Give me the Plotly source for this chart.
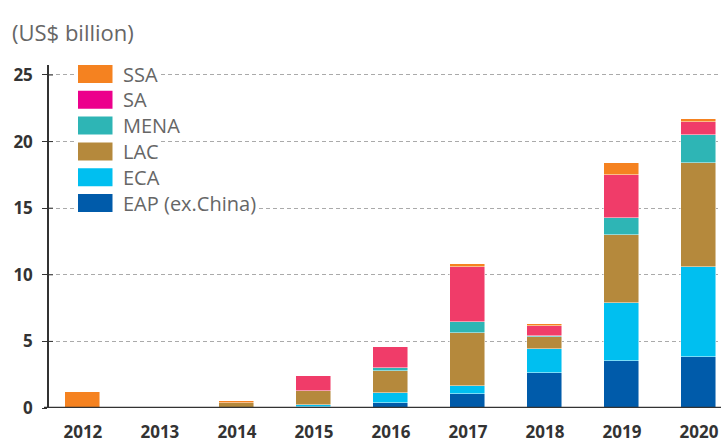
import plotly.graph_objects as go

years = ["2012", "2013", "2014", "2015", "2016", "2017", "2018", "2019", "2020"]
series_names = ["EAP (ex.China)", "ECA", "LAC", "MENA", "SA", "SSA"]
eap = [0.0, 0.0, 0.0, 0.05, 0.38, 1.03, 2.60, 3.55, 3.85]
eca = [0.0, 0.0, 0.0, 0.15, 0.77, 0.65, 1.80, 4.36, 6.76]
lac = [0.0, 0.0, 0.40, 1.10, 1.63, 3.95, 0.95, 5.08, 7.81]
mena = [0.0, 0.0, 0.0, 0.0, 0.20, 0.83, 0.05, 1.30, 2.08]
sa = [0.0, 0.0, 0.0, 1.12, 1.57, 4.15, 0.76, 3.17, 0.99]
ssa = [1.18, 0.0, 0.15, 0.0, 0.0, 0.18, 0.12, 0.96, 0.18]
y_ticks = [0, 5, 10, 15, 20, 25]

values = [eap, eca, lac, mena, sa, ssa]
bar_colors = ["#005BAA", "#00BFF0", "#B5893C", "#2EB5B5", "#F03C69", "#F58220"]
legend_colors = ["#005BAA", "#00BFF0", "#B5893C", "#2EB5B5", "#EC008C", "#F58220"]

W, H = 721, 443
ML, MR, MT, MB = 49, 0, 65, 35
YMAX = 25.75

fig = go.Figure()
for name, vals, col in zip(series_names, values, bar_colors):
    fig.add_trace(go.Bar(
        x=list(range(len(years))), y=vals, name=name,
        marker=dict(color=col, line=dict(color="rgba(255,255,255,0.6)", width=0.8)),
        width=0.455, showlegend=False,
    ))

fig.update_layout(
    width=W, height=H, barmode="stack",
    margin=dict(l=ML, r=MR, t=MT, b=MB, autoexpand=False),
    plot_bgcolor="white", paper_bgcolor="white",
    font=dict(family="Open Sans", color="#333333"),
    bargap=0,
)
fig.update_xaxes(
    tickmode="array", tickvals=list(range(len(years))), ticktext=years,
    range=[-0.44, 8.286], showgrid=False, zeroline=False, automargin=False,
    showline=False, ticks="", ticklabelstandoff=12,
    tickfont=dict(family="Open Sans", size=17, color="#333333", weight="bold"),
)
fig.update_yaxes(
    range=[0, YMAX], tickvals=y_ticks, showgrid=True, automargin=False,
    gridcolor="#AAAAAA", griddash="4px,3px", gridwidth=1.3,
    zeroline=False, showline=True, linecolor="#333333", linewidth=1.5,
    ticks="outside", ticklen=5, tickcolor="#333333", ticklabelstandoff=6,
    tickfont=dict(family="Open Sans", size=17, color="#333333", weight="bold"),
)

# baseline
fig.add_shape(type="line", xref="paper", yref="y", x0=-5 / (W - ML), x1=1, y0=0, y1=0,
              line=dict(color="#333333", width=2.5))
# small inner part of tick marks
for t in y_ticks[1:]:
    fig.add_shape(type="line", xref="paper", yref="y", x0=0, x1=4 / (W - ML), y0=t, y1=t,
                  line=dict(color="#333333", width=1))

pw = W - ML
ph = H - MT - MB
def px_x(p):
    return (p - ML) / pw
def px_y(p):
    return (H - MB - p) / ph

# title
fig.add_annotation(text="(US$ billion)", xref="paper", yref="paper",
                   x=px_x(10), y=px_y(32), xanchor="left", yanchor="middle",
                   showarrow=False, font=dict(family="Open Sans", size=22, color="#666666"))

# manual legend
legend_order = list(range(len(series_names)))[::-1]
row_centers = [74, 99.8, 125.6, 151.4, 177.2, 203]
for i, idx in enumerate(legend_order):
    cy = row_centers[i]
    fig.add_shape(type="rect", xref="paper", yref="paper",
                  x0=px_x(75), x1=px_x(126), y0=px_y(cy - 11), y1=px_y(cy + 11),
                  fillcolor="white", line=dict(width=0), layer="above")
    fig.add_shape(type="rect", xref="paper", yref="paper",
                  x0=px_x(78), x1=px_x(112.5), y0=px_y(cy - 9), y1=px_y(cy + 9),
                  fillcolor=legend_colors[idx], line=dict(width=0), layer="above")
    fig.add_annotation(text=series_names[idx], xref="paper", yref="paper",
                       x=px_x(121), y=px_y(cy), xanchor="left", yanchor="middle",
                       showarrow=False, bgcolor="white", borderpad=1,
                       font=dict(family="Open Sans", size=20, color="#666666"))

fig.write_html("out.html", config={"displayModeBar": False},
               post_script="document.body.style.margin='0';")
